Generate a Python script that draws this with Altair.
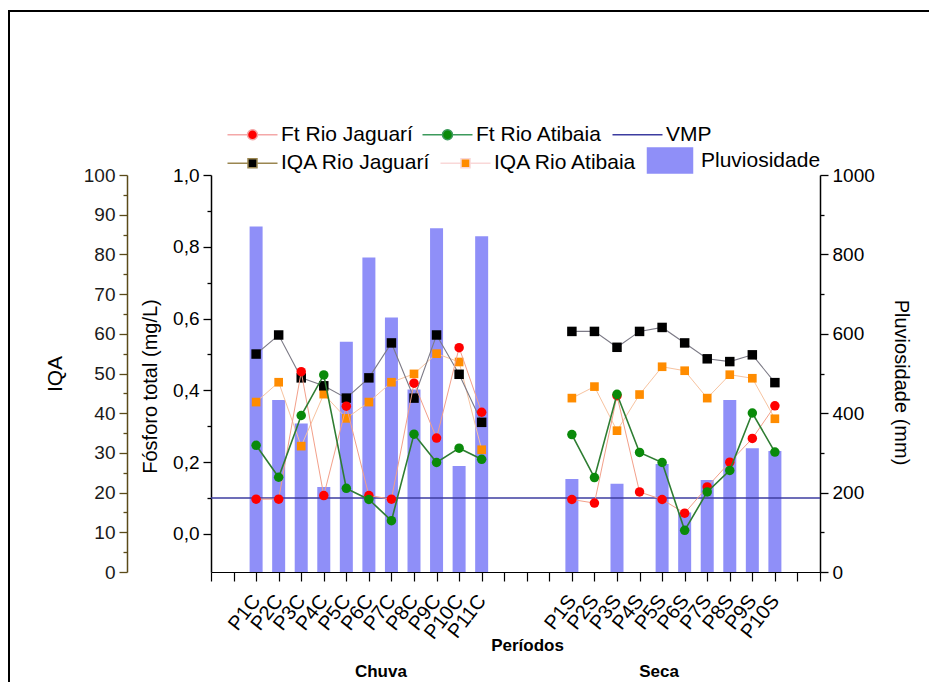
import altair as alt
import pandas as pd

FONT = "Liberation Sans"

# ---------------- data ----------------
periods_chuva = ["P1C", "P2C", "P3C", "P4C", "P5C", "P6C", "P7C", "P8C", "P9C", "P10C", "P11C"]
periods_seca = ["P1S", "P2S", "P3S", "P4S", "P5S", "P6S", "P7S", "P8S", "P9S", "P10S"]

pluv_chuva = [870, 433, 374, 214, 580, 792, 641, 460, 866, 267, 846]
pluv_seca = [234, None, 222, None, 272, 150, 232, 433, 312, 305]

ft_jaguari_chuva = [0.097, 0.097, 0.452, 0.107, 0.356, 0.107, 0.097, 0.420, 0.267, 0.519, 0.339]
ft_jaguari_seca = [0.096, 0.086, 0.385, 0.117, 0.096, 0.058, 0.131, 0.200, 0.266, 0.357]

ft_atibaia_chuva = [0.247, 0.158, 0.330, 0.443, 0.127, 0.096, 0.037, 0.278, 0.199, 0.239, 0.208]
ft_atibaia_seca = [0.277, 0.157, 0.389, 0.227, 0.199, 0.010, 0.117, 0.177, 0.337, 0.228]

iqa_jaguari_chuva = [54.9, 59.7, 48.9, 46.9, 43.8, 48.9, 57.7, 43.8, 59.7, 49.8, 37.7]
iqa_jaguari_seca = [60.6, 60.6, 56.6, 60.6, 61.6, 57.7, 53.7, 53.0, 54.7, 47.7]

iqa_atibaia_chuva = [42.8, 47.8, 31.7, 44.8, 38.7, 42.8, 47.8, 49.9, 55.0, 52.9, 30.8]
iqa_atibaia_seca = [43.8, 46.7, 35.6, 44.7, 51.7, 50.7, 43.8, 49.7, 48.8, 38.6]

vmp_value = [0.1]

legend_row1 = ["Ft Rio Jaguarí", "Ft Rio Atibaia", "VMP"]
legend_row2 = ["IQA Rio Jaguarí", "IQA Rio Atibaia", "Pluviosidade"]
season_labels = ["Chuva", "Seca"]

# ---------------- tables ----------------
rows = []
for i, p in enumerate(periods_chuva):
    rows.append(dict(idx=i, period=p, season="Chuva", pluv=pluv_chuva[i],
                     ft_jag=ft_jaguari_chuva[i], ft_ati=ft_atibaia_chuva[i],
                     iqa_jag=iqa_jaguari_chuva[i], iqa_ati=iqa_atibaia_chuva[i]))
for i, p in enumerate(periods_seca):
    rows.append(dict(idx=100 + i, period=p, season="Seca", pluv=pluv_seca[i],
                     ft_jag=ft_jaguari_seca[i], ft_ati=ft_atibaia_seca[i],
                     iqa_jag=iqa_jaguari_seca[i], iqa_ati=iqa_atibaia_seca[i]))
df = pd.DataFrame(rows)

# categorical axis with empty slots, as in the original figure
x_domain = ["_a", "_b"] + periods_chuva + ["_c", "_d", "_e"] + periods_seca + ["_f", "_g"]

x_axis = alt.Axis(
    title="Períodos", titleFont=FONT, titleFontSize=17, titleFontWeight="bold", titleColor="black",
    titleX=316, titleY=73, titleBaseline="middle", titleAnchor="middle", titleAlign="center",
    labelExpr="indexof(datum.value, '_') == 0 ? '' : datum.value",
    labelAngle=308, labelFont=FONT, labelFontSize=20, labelColor="black", labelPadding=16,
    labelOverlap=False, tickSize=9, tickColor="black", domainColor="black",
    tickWidth=1.2, domainWidth=1.2, grid=False,
)
x_enc = alt.X("period:N", sort=None,
              scale=alt.Scale(type="point", domain=x_domain, padding=0), axis=x_axis)

iqa_scale = alt.Scale(domain=[0, 100], nice=False, zero=False)
ft_scale = alt.Scale(domain=[-0.106, 1.0], nice=False, zero=False)
pluv_scale = alt.Scale(domain=[0, 1000], nice=False, zero=False)

IQA_COL = "#5a4a18"

iqa_major = alt.Axis(orient="left", offset=84, values=[0, 10, 20, 30, 40, 50, 60, 70, 80, 90, 100],
                     tickSize=8, labelPadding=4, domainColor=IQA_COL, tickColor=IQA_COL,
                     tickWidth=1.3, domainWidth=1.5,
                     labelFont=FONT, labelFontSize=19, labelColor="#1a1a1a",
                     title="IQA", titleFont=FONT, titleFontSize=21, titleFontWeight="normal",
                     titleColor="black", titlePadding=18, grid=False)
iqa_minor = alt.Axis(orient="left", offset=84, values=[5, 15, 25, 35, 45, 55, 65, 75, 85, 95],
                     tickSize=4, labels=False, domain=False, tickColor=IQA_COL, tickWidth=1.3,
                     title=None, grid=False)

ft_major = alt.Axis(orient="left", values=[0.0, 0.2, 0.4, 0.6, 0.8, 1.0],
                    labelExpr="replace(format(datum.value, '.1f'), '.', ',')",
                    tickSize=8, labelPadding=4, domainColor="black", tickColor="black",
                    tickWidth=1.3, domainWidth=1.5,
                    labelFont=FONT, labelFontSize=19, labelColor="black",
                    title="Fósforo total (mg/L)", titleFont=FONT, titleFontSize=20,
                    titleFontWeight="normal", titleColor="black", titlePadding=12,
                    titleY=211, grid=False)
ft_minor = alt.Axis(orient="left", values=[0.1, 0.3, 0.5, 0.7, 0.9],
                    tickSize=4, labels=False, domain=False, tickColor="black", tickWidth=1.3,
                    title=None, grid=False)

pluv_major = alt.Axis(orient="right", values=[0, 200, 400, 600, 800, 1000],
                      labelExpr="format(datum.value, 'd')",
                      tickSize=8, labelPadding=4, domainColor="black", tickColor="black",
                      tickWidth=1.3, domainWidth=1.5,
                      labelFont=FONT, labelFontSize=19, labelColor="black",
                      title="Pluviosidade (mm)", titleFont=FONT, titleFontSize=20,
                      titleFontWeight="normal", titleColor="black", titlePadding=16,
                      titleY=207, grid=False)
pluv_minor = alt.Axis(orient="right", values=[100, 300, 500, 700, 900],
                      tickSize=4, labels=False, domain=False, tickColor="black", tickWidth=1.3,
                      title=None, grid=False)

base = alt.Chart(df)

bars = base.mark_bar(color="#8f8ff8", size=13).encode(
    x=x_enc, y=alt.Y("pluv:Q", scale=pluv_scale, axis=pluv_major))
bars_minor = base.mark_bar(opacity=0, size=13).encode(
    x=x_enc, y=alt.Y("pluv:Q", scale=pluv_scale, axis=pluv_minor))

vmp = alt.Chart(pd.DataFrame({"vmp": vmp_value})).mark_rule(color="#3c3ca0", strokeWidth=1.6).encode(
    y=alt.Y("vmp:Q", scale=ft_scale, axis=None))


def line_layer(col, scale, axis, color, width):
    return base.mark_line(color=color, strokeWidth=width).encode(
        x=x_enc, y=alt.Y(f"{col}:Q", scale=scale, axis=axis),
        detail="season:N", order=alt.Order("idx:Q"))


def pts_layer(col, scale, axis, color, shape, size):
    return base.mark_point(filled=True, shape=shape, size=size, color=color, opacity=1).encode(
        x=x_enc, y=alt.Y(f"{col}:Q", scale=scale, axis=axis))


iqa_ati_line = line_layer("iqa_ati", iqa_scale, iqa_minor, "#f7c3a0", 1)
iqa_ati_pts = pts_layer("iqa_ati", iqa_scale, iqa_major, "#ff8c00", "square", 75)
iqa_jag_line = line_layer("iqa_jag", iqa_scale, None, "#7c7a86", 1.1)
iqa_jag_pts = pts_layer("iqa_jag", iqa_scale, None, "#000000", "square", 90)
ft_jag_line = line_layer("ft_jag", ft_scale, ft_minor, "#f3a08a", 1)
ft_jag_pts = pts_layer("ft_jag", ft_scale, ft_major, "#ff0000", "circle", 90)
ft_ati_line = line_layer("ft_ati", ft_scale, None, "#2e7d32", 1.6)
ft_ati_pts = pts_layer("ft_ati", ft_scale, None, "#0a8a0a", "circle", 90)

# ---------------- season labels ----------------
chuva_txt = alt.Chart(pd.DataFrame({"period": ["P6C"], "label": [season_labels[0]]})).mark_text(
    font=FONT, fontSize=17, fontWeight="bold", color="black", dx=12, baseline="middle").encode(
    x=x_enc, y=alt.value(497), text="label:N")
seca_txt = alt.Chart(pd.DataFrame({"period": ["P5S"], "label": [season_labels[1]]})).mark_text(
    font=FONT, fontSize=17, fontWeight="bold", color="black", dx=-3, baseline="middle").encode(
    x=x_enc, y=alt.value(497), text="label:N")

# ---------------- legend (two rows) ----------------
P_LINE_CIRCLE = "M-1,0H3M5,0H9M3,0A1,1 0 1,1 5,0A1,1 0 1,1 3,0Z"
P_LINE = "M-1,0H9"
P_LINE_SQUARE = "M-1,0H3.1M4.9,0H9M3.1,-0.9H4.9V0.9H3.1Z"
P_RECT = "M-1,-2.5H8V2.5H-1Z"


def legend(y):
    return alt.Legend(title=None, orient="none", legendX=11, legendY=y, direction="horizontal",
                      symbolSize=100, symbolStrokeWidth=1.5, symbolOffset=0,
                      labelFont=FONT, labelFontSize=21, labelColor="black", labelOffset=38,
                      columnPadding=4, padding=0)


def legend_layer(names, fills, strokes, shapes, y):
    lg = legend(y)
    return alt.Chart(pd.DataFrame({"name": names})).transform_filter("false").mark_point(
        filled=True, opacity=1).encode(
        fill=alt.Fill("name:N", scale=alt.Scale(domain=names, range=fills), legend=lg),
        stroke=alt.Stroke("name:N", scale=alt.Scale(domain=names, range=strokes), legend=lg),
        shape=alt.Shape("name:N", scale=alt.Scale(domain=names, range=shapes), legend=lg),
    )


leg1 = legend_layer(legend_row1, ["#ff0000", "#0a8a0a", "#3c3ca0"],
                    ["#f4a8a8", "#3c9a5c", "#3c3ca0"],
                    [P_LINE_CIRCLE, P_LINE_CIRCLE, P_LINE], -51)
leg2 = legend_layer(legend_row2, ["#000000", "#ff8c00", "#8f8ff8"],
                    ["#9a8650", "#f9d8d8", "#8f8ff8"],
                    [P_LINE_SQUARE, P_LINE_SQUARE, P_RECT], -25)

# ---------------- outer frame ----------------
one = pd.DataFrame({"a": [0]})
frame_left = alt.Chart(one).mark_rule(color="black", strokeWidth=2).encode(
    x=alt.value(-202), y=alt.value(-164), y2=alt.value(520))
frame_top = alt.Chart(one).mark_rule(color="black", strokeWidth=2).encode(
    x=alt.value(-203), x2=alt.value(718), y=alt.value(-164))

chart = alt.layer(
    bars, bars_minor, vmp,
    iqa_ati_line, iqa_ati_pts, iqa_jag_line, iqa_jag_pts,
    ft_jag_line, ft_jag_pts, ft_ati_line, ft_ati_pts,
    chuva_txt, seca_txt, leg1, leg2, frame_left, frame_top,
).resolve_scale(
    y="independent", fill="independent", stroke="independent", shape="independent"
).properties(
    width=609, height=397,
    padding={"left": 203, "top": 167, "right": 112, "bottom": 110},
    autosize=alt.AutoSizeParams(type="none"),
    background="white",
).configure_view(stroke=None)

chart.save("out.html", embed_options={"renderer": "svg", "actions": False})
